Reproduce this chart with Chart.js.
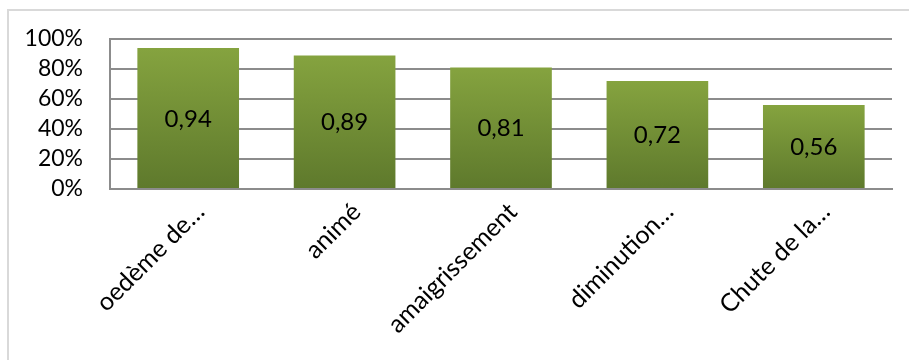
<!DOCTYPE html>
<html>
<head>
<meta charset="utf-8">
<script src="https://cdn.jsdelivr.net/npm/chart.js@4/dist/chart.umd.min.js"></script>
<style>
  html, body { margin: 0; padding: 0; background: #fff; }
  #wrap { position: relative; width: 909px; height: 360px; overflow: hidden; }
  #frame { position: absolute; left: 7px; top: 9px; width: 1000px; height: 400px;
           border-left: 2px solid #d9d9d9; border-top: 2px solid #d9d9d9; }
  canvas { position: absolute; left: 0; top: 0; }
</style>
</head>
<body>
<div id="wrap">
  <div id="frame"></div>
  <canvas id="chart" width="909" height="360"></canvas>
</div>
<script>
// Symptom labels and their frequencies
const categories = ['oedème de…', 'animé', 'amaigrissement', 'diminution…', 'Chute de la…'];
const values = [0.94, 0.89, 0.81, 0.72, 0.56];
const yTicks = [0, 0.2, 0.4, 0.6, 0.8, 1];

const FONT = 'Lato, "Liberation Sans", sans-serif';
const GREEN_TOP = '#85a33f';
const GREEN_BOTTOM = '#5e792c';

function barFill(ctx) {
  const chart = ctx.chart;
  if (!chart.chartArea || !chart.scales.y) return GREEN_TOP;
  const y = chart.scales.y;
  const top = y.getPixelForValue(ctx.raw);
  const base = y.getPixelForValue(0);
  const g = chart.ctx.createLinearGradient(0, top, 0, base);
  g.addColorStop(0, GREEN_TOP);
  g.addColorStop(1, GREEN_BOTTOM);
  return g;
}

// Writes each value, decimal comma, in the middle of its bar
const valueLabels = {
  id: 'valueLabels',
  afterDatasetsDraw(chart) {
    const ctx = chart.ctx;
    const meta = chart.getDatasetMeta(0);
    ctx.save();
    ctx.font = '24px ' + FONT;
    ctx.fillStyle = '#000';
    ctx.textAlign = 'center';
    ctx.textBaseline = 'middle';
    meta.data.forEach((bar, i) => {
      const text = values[i].toFixed(2).replace('.', ',');
      ctx.fillText(text, bar.x, (bar.y + bar.base) / 2 + 1);
    });
    ctx.restore();
  }
};

new Chart(document.getElementById('chart'), {
  type: 'bar',
  data: {
    labels: categories,
    datasets: [{
      data: values,
      backgroundColor: barFill,
      borderWidth: 0,
      categoryPercentage: 0.65,
      barPercentage: 1
    }]
  },
  options: {
    responsive: false,
    animation: false,
    events: [],
    layout: { padding: { top: 39, right: 17, left: 0, bottom: 0 } },
    plugins: { legend: { display: false }, tooltip: { enabled: false } },
    scales: {
      x: {
        grid: { display: false, drawTicks: false },
        border: { display: true, color: '#8c8c8c', width: 2 },
        ticks: {
          color: '#000',
          font: { family: FONT, size: 25 },
          minRotation: 45,
          maxRotation: 45,
          autoSkip: false,
          padding: 8,
          labelOffset: 12
        },
        afterFit(scale) { scale.height = 171; }
      },
      y: {
        min: 0,
        max: 1,
        afterBuildTicks(scale) { scale.ticks = yTicks.map(v => ({ value: v })); },
        grid: { color: '#8c8c8c', lineWidth: 2, drawTicks: false },
        border: { display: true, color: '#8c8c8c', width: 2 },
        ticks: {
          color: '#000',
          font: { family: FONT, size: 23, lineHeight: 1 },
          padding: 27,
          autoSkip: false,
          callback: v => Math.round(v * 100) + '%'
        },
        afterFit(scale) { scale.width = 110; }
      }
    }
  },
  plugins: [valueLabels]
});
</script>
</body>
</html>
